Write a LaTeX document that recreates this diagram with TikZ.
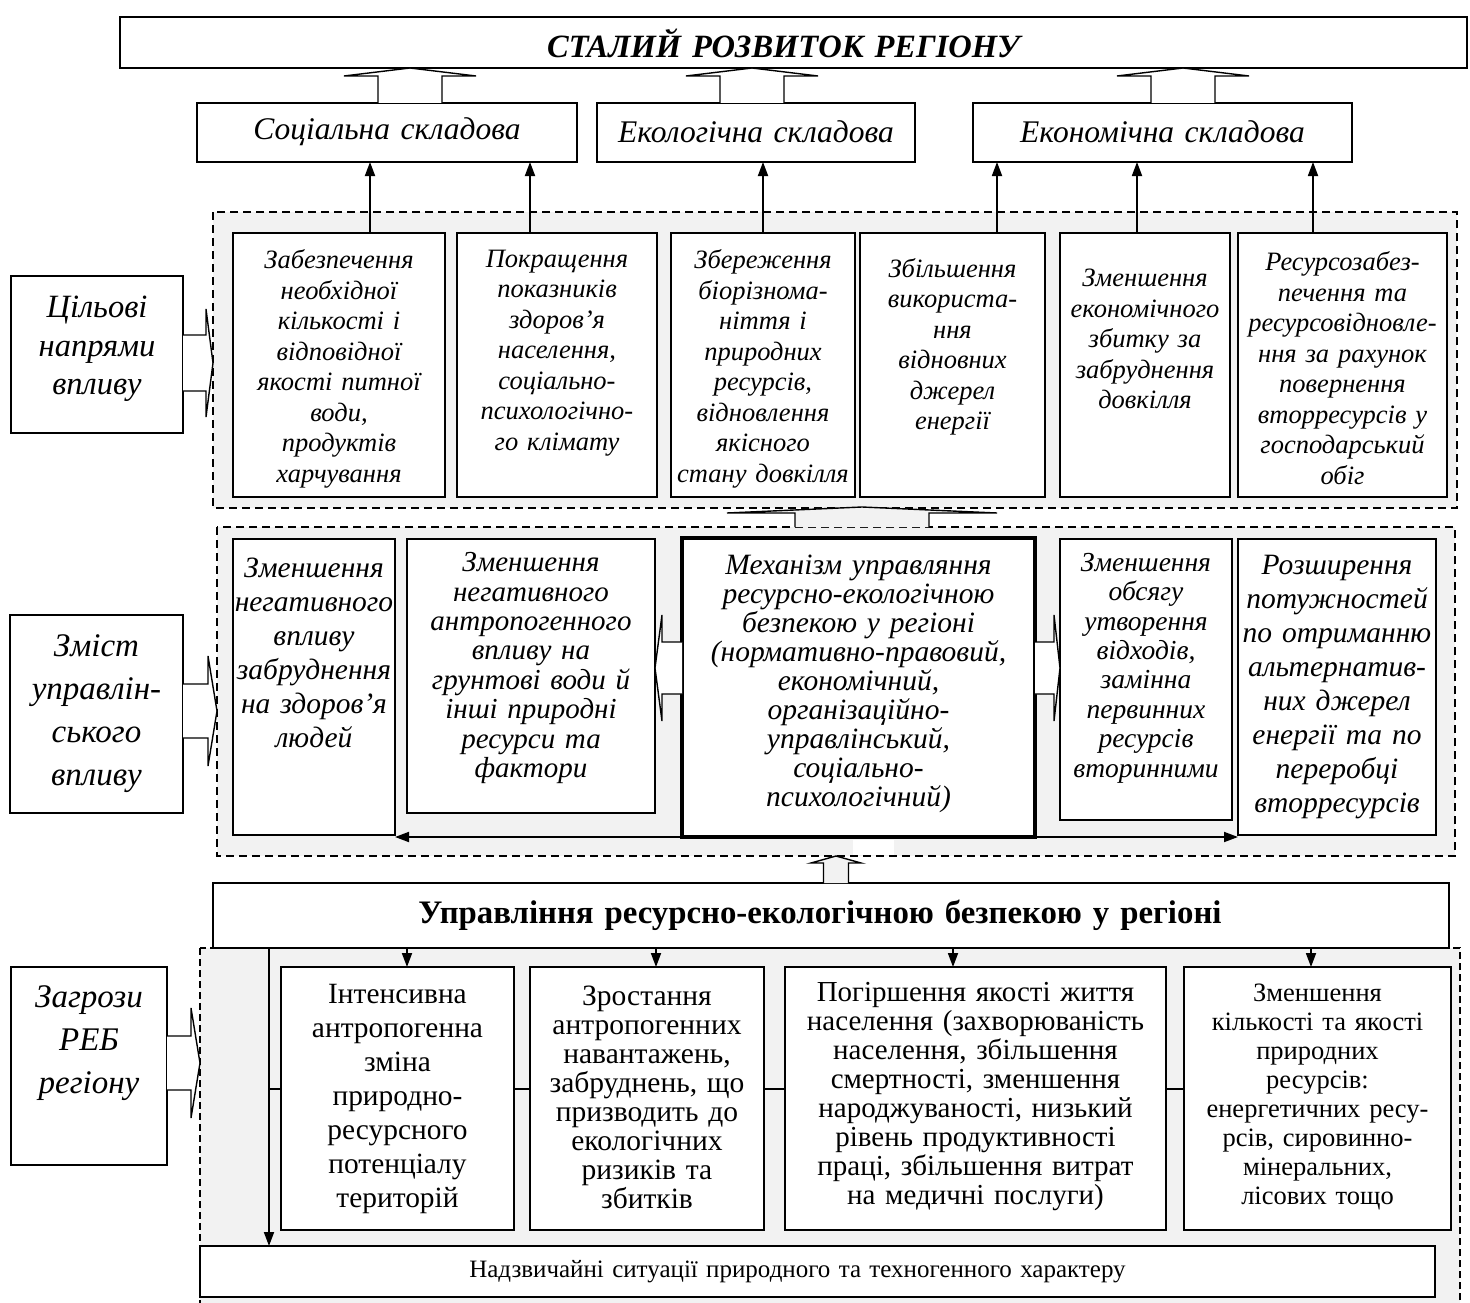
\documentclass[tikz,border=0pt]{standalone}
\usepackage{fontspec}
\setmainfont{Liberation Serif}
\usetikzlibrary{arrows.meta,calc}
\definecolor{panelgray}{HTML}{F2F2F2}
\newcommand\fsz[2]{\fontsize{#1}{#2}\selectfont\lineskiplimit=-40pt\relax}
% box from corners (x1,y1)-(x2,y2); its text block centred at height #7
\newcommand\tbox[9]{%
  \pgfmathsetmacro\bw{#5-#3}\pgfmathsetmacro\bh{#6-#4}%
  \pgfmathsetmacro\bx{(#3+#5)/2}\pgfmathsetmacro\by{(#4+#6)/2}%
  \pgfmathsetmacro\tw{#5-#3+60}%
  \node[#2, minimum width=\bw pt, minimum height=\bh pt] (#1) at (\bx,\by) {};
  \node[#8, text width=\tw pt] (#1-t) at (\bx,#7) {#9};}
% block arrow pointing along x: shaft from x0 to x1, head to x2
\newcommand\blockh[7]{%
  \draw[#7] (#1,#4-#5) -- (#2,#4-#5) -- (#2,#4-#6) -- (#3,#4) -- (#2,#4+#6) -- (#2,#4+#5) -- (#1,#4+#5);}
% block arrow pointing up: centre x, shaft foot y0, head base y1, tip y2
\newcommand\blockv[7]{%
  \draw[#7] (#1-#5,#2) -- (#1-#5,#3) -- (#1-#6,#3) -- (#1,#4) -- (#1+#6,#3) -- (#1+#5,#3) -- (#1+#5,#2);}
\tikzset{
  box/.style={draw, line width=1.6pt, fill=white, inner sep=0pt, outer sep=0pt},
  heavybox/.style={box, line width=4.5pt},
  panel/.style={draw, fill=panelgray, line width=1.4pt, dash pattern=on 8pt off 5pt},
  panelthin/.style={draw, fill=panelgray, line width=1.1pt, dash pattern=on 7pt off 4pt},
  txt/.style={align=center, inner sep=0pt},
  ttl/.style={txt, font=\fsz{32.5}{36}\bfseries\itshape, xshift=-10pt},
  comp/.style={txt, font=\fsz{31.5}{36}\itshape},
  side/.style={txt, font=\fsz{32.5}{38.5}\itshape},
  sideb/.style={txt, font=\fsz{33}{43}\itshape},
  aim/.style={txt, font=\fsz{26.5}{30.5}\itshape},
  midl/.style={txt, font=\fsz{29.5}{34}\itshape},
  midm/.style={txt, font=\fsz{29}{29.4}\itshape},
  mech/.style={txt, font=\fsz{29.5}{29}\itshape},
  mids/.style={txt, font=\fsz{27.5}{29.4}\itshape},
  thrl/.style={txt, font=\fsz{29.4}{34}},
  thrs/.style={txt, font=\fsz{29.5}{29}},
  thrm/.style={txt, font=\fsz{29}{29}},
  thrx/.style={txt, font=\fsz{26.5}{29}},
  mgmt/.style={txt, font=\fsz{32.8}{36}\bfseries, xshift=-11pt},
  emerg/.style={txt, font=\fsz{25}{28}, xshift=-20pt},
  arr/.style={line width=1.8pt, -{Triangle[length=14pt,width=10pt]}},
  link/.style={line width=1.8pt},
  hollow/.style={draw, fill=white, line width=1.4pt, line join=miter},
  hollowg/.style={draw, fill=panelgray, line width=1.4pt, line join=miter}
}
\begin{document}
\begin{tikzpicture}[x=1pt,y=-1pt]
\useasboundingbox (0,0) rectangle (1470,1303);
\fill[white] (0,0) rectangle (1470,1303);

% ---- grey working areas
\path[panel] (213,212) rectangle (1457,508);
\path[panel] (217,527) rectangle (1455,856);
\path[panelthin] (200,948) rectangle (1460,1330);
\fill[white] (853,840) rectangle (894,855);

% ---- goal and its three components
\tbox{goal}{box}{120}{17}{1467}{68}{43}{ttl}{СТАЛИЙ РОЗВИТОК РЕГІОНУ}
\tbox{soc}{box}{197}{103}{577}{162}{132}{comp}{Соціальна складова}
\tbox{eco}{box}{597}{103}{915}{162}{132}{comp}{Екологічна складова}
\tbox{econ}{box}{973}{103}{1352}{162}{132}{comp}{Економічна складова}

% ---- left captions
\tbox{lab1}{box}{11}{276}{183}{433}{349}{side}{Цільові\\напрями\\впливу}
\tbox{lab2}{box}{10}{615}{183}{813}{714}{sideb}{Зміст\\управлін-\\ського\\впливу}
\tbox{lab3}{box}{11}{967}{167}{1165}{1043}{sideb}{Загрози\\РЕБ\\регіону}

% ---- target directions
\tbox{t1}{box}{233}{233}{445}{497}{369}{aim}{Забезпечення\\необхідної\\кількості і\\відповідної\\якості питної\\води,\\продуктів\\харчування}
\tbox{t2}{box}{457}{233}{657}{497}{353}{aim}{Покращення\\показників\\здоров’я\\населення,\\соціально-\\психологічно-\\го клімату}
\tbox{t3}{box}{671}{233}{855}{497}{369}{aim}{Збереження\\біорізнома-\\ніття і\\природних\\ресурсів,\\відновлення\\якісного\\стану довкілля}
\tbox{t4}{box}{860}{233}{1045}{497}{347}{aim}{Збільшення\\використа-\\ння\\відновних\\джерел\\енергії}
\tbox{t5}{box}{1060}{233}{1230}{497}{339}{aim}{Зменшення\\економічного\\збитку за\\забруднення\\довкілля}
\tbox{t6}{box}{1238}{233}{1447}{497}{368}{aim}{Ресурсозабез-\\печення та\\ресурсовідновле-\\ння за рахунок\\повернення\\вторресурсів у\\господарський\\обіг}

% ---- content of the management influence
\tbox{m1}{box}{233}{539}{395}{835}{653}{midl}{Зменшення\\негативного\\впливу\\забруднення\\на здоров’я\\людей}
\tbox{m2}{box}{407}{539}{655}{813}{668}{midm}{Зменшення\\негативного\\антропогенного\\впливу на\\грунтові води й\\інші природні\\ресурси та\\фактори}
\tbox{mech}{heavybox}{682}{538}{1035}{837}{684}{mech}{Механізм управляння\\ресурсно-екологічною\\безпекою у регіоні\\(нормативно-правовий,\\економічний,\\організаційно-\\управлінський,\\соціально-\\психологічний)}
\tbox{m4}{box}{1060}{539}{1232}{820}{668}{mids}{Зменшення\\обсягу\\утворення\\відходів,\\замінна\\первинних\\ресурсів\\вторинними}
\tbox{m5}{box}{1238}{539}{1436}{835}{687}{midl}{Розширення\\потужностей\\по отриманню\\альтернатив-\\них джерел\\енергії та по\\переробці\\вторресурсів}

% ---- threats: distribution bus behind the boxes
\coordinate (hub) at (269,1089);
\draw[link] (hub) -- (1184,1089);

\tbox{mgmt}{box}{213}{883}{1449}{948}{915}{mgmt}{Управління ресурсно-екологічною безпекою у регіоні}
\tbox{q1}{box}{281}{967}{514}{1230}{1099}{thrl}{Інтенсивна\\антропогенна\\зміна\\природно-\\ресурсного\\потенціалу\\територій}
\tbox{q2}{box}{530}{967}{764}{1230}{1097}{thrs}{Зростання\\антропогенних\\навантажень,\\забруднень, що\\призводить до\\екологічних\\ризиків та\\збитків}
\tbox{q3}{box}{785}{967}{1166}{1230}{1097}{thrm}{Погіршення якості життя\\населення (захворюваність\\населення, збільшення\\смертності, зменшення\\народжуваності, низький\\рівень продуктивності\\праці, збільшення витрат\\на медичні послуги)}
\tbox{q4}{box}{1184}{967}{1451}{1230}{1097}{thrx}{Зменшення\\кількості та якості\\природних\\ресурсів:\\енергетичних ресу-\\рсів, сировинно-\\мінеральних,\\лісових тощо}
\tbox{emg}{box}{200}{1246}{1435}{1297}{1272}{emerg}{Надзвичайні ситуації природного та техногенного характеру}

% ---- thin arrows
\draw[arr] (t1.north -| 370,0) -- (soc.south -| 370,0);
\draw[arr] (t2.north -| 530,0) -- (soc.south -| 530,0);
\draw[arr] (t3.north -| 763,0) -- (eco.south -| 763,0);
\draw[arr] (t4.north -| 997,0) -- (econ.south -| 997,0);
\draw[arr] (t5.north -| 1137,0) -- (econ.south -| 1137,0);
\draw[arr] (t6.north -| 1313,0) -- (econ.south -| 1313,0);

\draw[arr] (mech.south west) -- (mech.south west -| m1.east);
\draw[arr] (mech.south east) -- (mech.south east -| m5.west);

\draw[arr] (mgmt.south -| hub) -- (emg.north -| hub);
\draw[arr] (mgmt.south -| 407,0) -- (q1.north -| 407,0);
\draw[arr] (mgmt.south -| 656,0) -- (q2.north -| 656,0);
\draw[arr] (mgmt.south -| 953,0) -- (q3.north -| 953,0);
\draw[arr] (mgmt.south -| 1311,0) -- (q4.north -| 1311,0);

% ---- block arrows
\blockv{410}{103}{76}{68}{32}{66}{hollow}
\blockv{752}{103}{76}{68}{32}{66}{hollow}
\blockv{1183}{103}{76}{68}{32}{66}{hollow}

\blockh{183}{206}{213}{363}{28}{54}{hollow}
\blockh{183}{208}{217}{711}{27}{55}{hollow}
\blockh{167}{191}{200}{1063}{27}{55}{hollow}

\blockh{682}{662}{655}{668}{26}{53}{hollow}
\blockh{1035}{1054}{1060}{668}{26}{53}{hollow}

\blockv{862}{527}{513}{507}{67}{135}{hollowg}
\blockv{836}{883}{863}{856}{12.5}{25}{hollowg}
\end{tikzpicture}
\end{document}
